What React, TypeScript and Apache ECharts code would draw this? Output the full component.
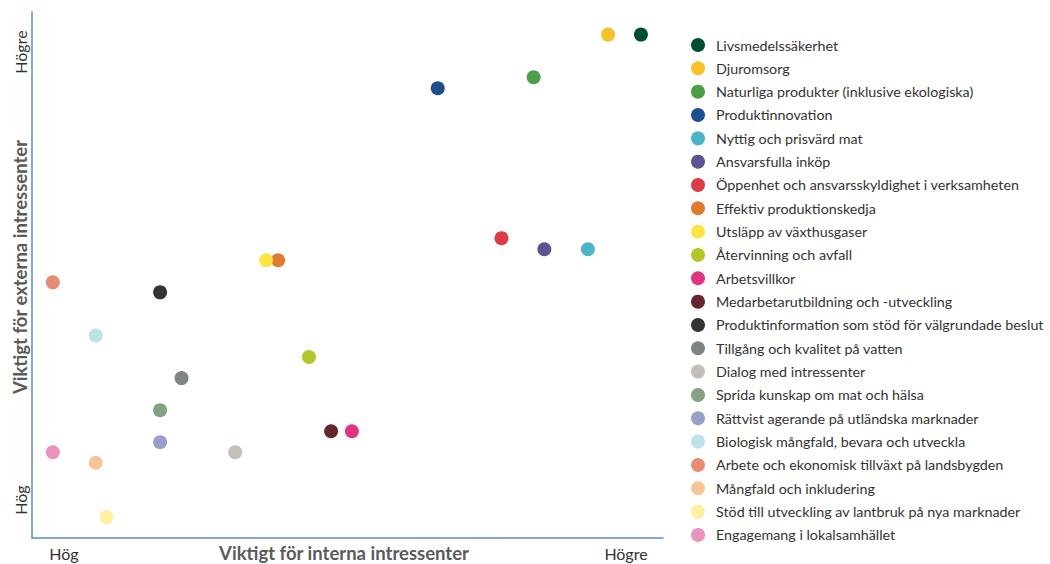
import React, { useEffect, useRef } from "react";
import * as echarts from "echarts";

const names = [
  "Livsmedelssäkerhet",
  "Djuromsorg",
  "Naturliga produkter (inklusive ekologiska)",
  "Produktinnovation",
  "Nyttig och prisvärd mat",
  "Ansvarsfulla inköp",
  "Öppenhet och ansvarsskyldighet i verksamheten",
  "Effektiv produktionskedja",
  "Utsläpp av växthusgaser",
  "Återvinning och avfall",
  "Arbetsvillkor",
  "Medarbetarutbildning och -utveckling",
  "Produktinformation som stöd för välgrundade beslut",
  "Tillgång och kvalitet på vatten",
  "Dialog med intressenter",
  "Sprida kunskap om mat och hälsa",
  "Rättvist agerande på utländska marknader",
  "Biologisk mångfald, bevara och utveckla",
  "Arbete och ekonomisk tillväxt på landsbygden",
  "Mångfald och inkludering",
  "Stöd till utveckling av lantbruk på nya marknader",
  "Engagemang i lokalsamhället",
];

// importance for internal stakeholders (x) and external stakeholders (y), 0–100
const internalValues = [96.5, 91.3, 79.5, 64.3, 88.1, 81.2, 74.4, 39.0, 37.1, 43.9, 50.7, 47.4, 20.3, 23.7, 32.2, 20.3, 20.3, 10.1, 3.3, 10.1, 11.8, 3.3];
const externalValues = [95.7, 95.7, 87.6, 85.5, 54.9, 54.9, 57.0, 52.8, 52.8, 34.4, 20.3, 20.3, 46.7, 30.4, 16.3, 24.3, 18.2, 38.5, 48.6, 14.3, 4.0, 16.3];

const colors = [
  "#004d33", "#f7c12a", "#4c9f48", "#1f4e8f", "#4bb4c9", "#5c5591", "#db3d47", "#e07a2e",
  "#fde445", "#b5c628", "#e03381", "#662630", "#333333", "#7f8583", "#c4c0b8", "#82a282",
  "#97a0cb", "#bde1e9", "#e98b72", "#f6c597", "#fdf0a0", "#ea93bc",
];

const xTickLabels = ["Hög", "Högre"];
const yTickLabels = ["Hög", "Högre"];
const xAxisTitle = "Viktigt för interna intressenter";
const yAxisTitle = "Viktigt för externa intressenter";

const FONT = "Lato";

export default function App() {
  const ref = useRef<HTMLDivElement>(null);
  useEffect(() => {
    if (!ref.current) return;
    const chart = echarts.init(ref.current, null, { renderer: "svg" });
    const axisColor = "#5b8ccc";
    chart.setOption({
      animation: false,
      textStyle: { fontFamily: FONT },
      grid: { left: 32, right: 387, top: 12, bottom: 26 },
      xAxis: {
        type: "value",
        min: 0,
        max: 100,
        axisLine: { show: true, lineStyle: { color: axisColor, width: 1.5 } },
        axisTick: { show: false },
        axisLabel: { show: false },
        splitLine: { show: false },
      },
      yAxis: {
        type: "value",
        min: 0,
        max: 100,
        axisLine: { show: true, lineStyle: { color: axisColor, width: 1.5 } },
        axisTick: { show: false },
        axisLabel: { show: false },
        splitLine: { show: false },
      },
      legend: {
        orient: "vertical",
        left: 686,
        top: 33,
        itemWidth: 14,
        itemHeight: 14,
        itemGap: 9.33,
        icon: "circle",
        textStyle: { fontFamily: FONT, fontSize: 14.3, color: "#333", padding: [0, 0, 0, 6] },
        data: names,
      },
      graphic: [
        { type: "text", x: 64, y: 553, style: { text: xTickLabels[0], fontFamily: FONT, fontSize: 16, fill: "#333", align: "center", verticalAlign: "middle" } },
        { type: "text", x: 626, y: 553, style: { text: xTickLabels[1], fontFamily: FONT, fontSize: 16, fill: "#333", align: "center", verticalAlign: "middle" } },
        { type: "text", x: 344, y: 553, style: { text: xAxisTitle, fontFamily: FONT, fontSize: 18.5, fontWeight: "bold", fill: "#5a5a5a", align: "center", verticalAlign: "middle" } },
        { type: "text", x: 20, y: 500, rotation: Math.PI / 2, style: { text: yTickLabels[0], fontFamily: FONT, fontSize: 16, fill: "#333", align: "center", verticalAlign: "middle" } },
        { type: "text", x: 20, y: 52, rotation: Math.PI / 2, style: { text: yTickLabels[1], fontFamily: FONT, fontSize: 16, fill: "#333", align: "center", verticalAlign: "middle" } },
        { type: "text", x: 20, y: 267, rotation: Math.PI / 2, style: { text: yAxisTitle, fontFamily: FONT, fontSize: 18.5, fontWeight: "bold", fill: "#5a5a5a", align: "center", verticalAlign: "middle" } },
      ],
      series: names.map((n, i) => ({
        name: n,
        type: "scatter",
        symbol: "circle",
        symbolSize: 14,
        itemStyle: { color: colors[i], opacity: 1 },
        data: [[internalValues[i], externalValues[i]]],
      })),
    });
    return () => chart.dispose();
  }, []);
  return <div ref={ref} style={{ position: "absolute", left: 0, top: 0, width: 1050, height: 564 }} />;
}
